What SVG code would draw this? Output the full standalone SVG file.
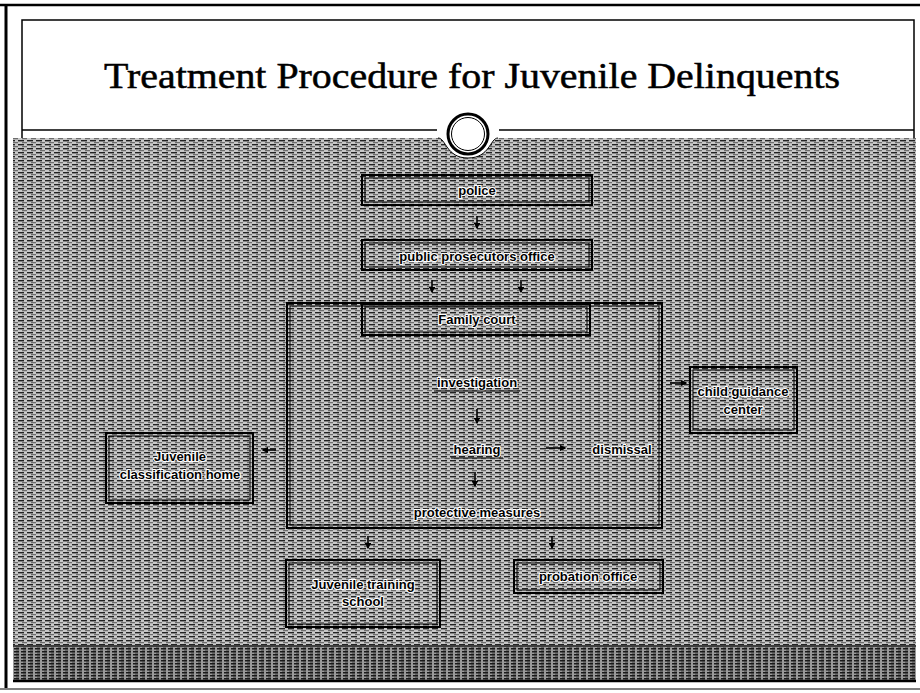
<svg xmlns="http://www.w3.org/2000/svg" width="920" height="693" viewBox="0 0 920 693">
<style>
.bx{fill:none;stroke:#000;stroke-width:2}
.bi{fill:none;stroke:#000;stroke-width:1}
.t{font-family:"Liberation Sans",Arial,sans-serif;font-weight:bold;font-size:13px;fill:#000;text-anchor:middle;stroke:#fff;stroke-width:2.2px;paint-order:stroke;stroke-linejoin:round}
.c{stroke:#000;stroke-width:1.6;fill:none;marker-end:url(#ah)}
.ul{stroke:#000;stroke-width:1.2}
</style>
<defs>
<pattern id="tex" width="9" height="4" patternUnits="userSpaceOnUse">
<rect width="9" height="4" fill="#c8c8c8"/>
<rect x="0" y="0" width="6" height="1.4" fill="#222"/>
<rect x="4" y="2.2" width="5" height="1" fill="#555"/>
</pattern>
<pattern id="tex2" width="7" height="3" patternUnits="userSpaceOnUse">
<rect width="7" height="3" fill="#9a9a9a"/>
<rect x="0" y="0" width="5" height="1.5" fill="#1a1a1a"/>
<rect x="2" y="1.5" width="3" height="1" fill="#3a3a3a"/>
</pattern>
<marker id="ah" viewBox="0 0 10 10" refX="8" refY="5" markerWidth="4" markerHeight="4" orient="auto">
<path d="M0,0 L10,5 L0,10 z" fill="#000"/>
</marker>
</defs>
<rect width="920" height="693" fill="#fff"/>
<!-- frame -->
<line x1="0" y1="5" x2="920" y2="5" stroke="#000" stroke-width="2.5"/>
<line x1="6" y1="4" x2="6" y2="688" stroke="#000" stroke-width="3"/>
<line x1="0" y1="689" x2="920" y2="689" stroke="#000" stroke-width="1"/>
<!-- textured body -->
<rect x="13" y="138" width="903" height="507" fill="url(#tex)"/>
<path d="M438,138 C446,138 446,158 468,158 C490,158 490,138 498,138 Z" fill="#fff"/>
<path d="M438,138 C446,138 446,158 468,158 C490,158 490,138 498,138" fill="none" stroke="#000" stroke-width="1"/>
<rect x="13" y="647" width="903" height="34" fill="url(#tex2)"/>
<line x1="13" y1="646" x2="916" y2="646" stroke="#000" stroke-width="1.5"/>
<line x1="13" y1="681" x2="916" y2="681" stroke="#000" stroke-width="2.5"/>
<!-- title box -->
<path d="M22,138 L22,20 L914,20 L914,138" fill="none" stroke="#000" stroke-width="1.5"/>
<line x1="22" y1="130" x2="437" y2="130" stroke="#000" stroke-width="1.5"/>
<line x1="499" y1="130" x2="914" y2="130" stroke="#000" stroke-width="1.5"/>
<circle cx="468" cy="134" r="20" fill="#fff" stroke="#000" stroke-width="3"/>
<circle cx="468" cy="134" r="16.5" fill="none" stroke="#000" stroke-width="1"/>
<text x="472" y="88" font-family="'Liberation Serif','Times New Roman',serif" font-size="35" text-anchor="middle" textLength="736" lengthAdjust="spacingAndGlyphs" fill="#000" stroke="#000" stroke-width="0.5">Treatment Procedure for Juvenile Delinquents</text>

<g id="connectors">
<line class="c" x1="477" y1="216" x2="477" y2="228"/>
<line class="c" x1="432" y1="280" x2="432" y2="292"/>
<line class="c" x1="521" y1="280" x2="521" y2="292"/>
<line class="c" x1="477" y1="409" x2="477" y2="423"/>
<line class="c" x1="475" y1="472" x2="475" y2="486"/>
<line class="c" x1="546" y1="448" x2="565" y2="448"/>
<line class="c" x1="670" y1="383" x2="686" y2="383"/>
<line class="c" x1="276" y1="450" x2="263" y2="450"/>
<line class="c" x1="368" y1="536" x2="368" y2="548"/>
<line class="c" x1="552" y1="536" x2="552" y2="548"/>
</g>

<g id="police">
<rect class="bx" x="362" y="175" width="230" height="30"/>
<rect class="bi" x="365" y="178" width="224" height="24"/>
<text class="t" x="477" y="195">police</text>
</g>
<g id="prosecutors">
<rect class="bx" x="362" y="240" width="230" height="30"/>
<rect class="bi" x="365" y="243" width="224" height="24"/>
<text class="t" x="477" y="261">public prosecutors office</text>
</g>
<g id="family-court-frame">
<rect class="bx" x="287" y="303" width="375" height="225"/>
<rect class="bi" x="290" y="306" width="369" height="219"/>
</g>
<g id="family-court">
<rect class="bx" x="362" y="304" width="228" height="31"/>
<rect class="bi" x="365" y="307" width="222" height="25"/>
<text class="t" x="477" y="324">Family court</text>
</g>
<g id="investigation">
<text class="t" x="477" y="387">investigation</text>
<line class="ul" x1="434" y1="391" x2="520" y2="391"/>
</g>
<g id="hearing">
<text class="t" x="477" y="454">hearing</text>
<line class="ul" x1="451" y1="458" x2="503" y2="458"/>
</g>
<g id="dismissal">
<text class="t" x="622" y="454">dismissal</text>
</g>
<g id="protective">
<text class="t" x="477" y="517">protective measures</text>
</g>
<g id="child-guidance">
<rect class="bx" x="690" y="367" width="107" height="66"/>
<rect class="bi" x="693" y="370" width="101" height="60"/>
<text class="t" x="743" y="396">child guidance</text>
<text class="t" x="743" y="414">center</text>
</g>
<g id="classification-home">
<rect class="bx" x="106" y="433" width="147" height="70"/>
<rect class="bi" x="109" y="436" width="141" height="64"/>
<text class="t" x="180" y="461">Juvenile</text>
<text class="t" x="180" y="479">classification home</text>
</g>
<g id="training-school">
<rect class="bx" x="286" y="560" width="154" height="67"/>
<rect class="bi" x="289" y="563" width="148" height="61"/>
<text class="t" x="363" y="589">Juvenile training</text>
<text class="t" x="363" y="606">school</text>
</g>
<g id="probation">
<rect class="bx" x="514" y="560" width="149" height="33"/>
<rect class="bi" x="517" y="563" width="143" height="27"/>
<text class="t" x="588" y="581">probation office</text>
</g>
</svg>
